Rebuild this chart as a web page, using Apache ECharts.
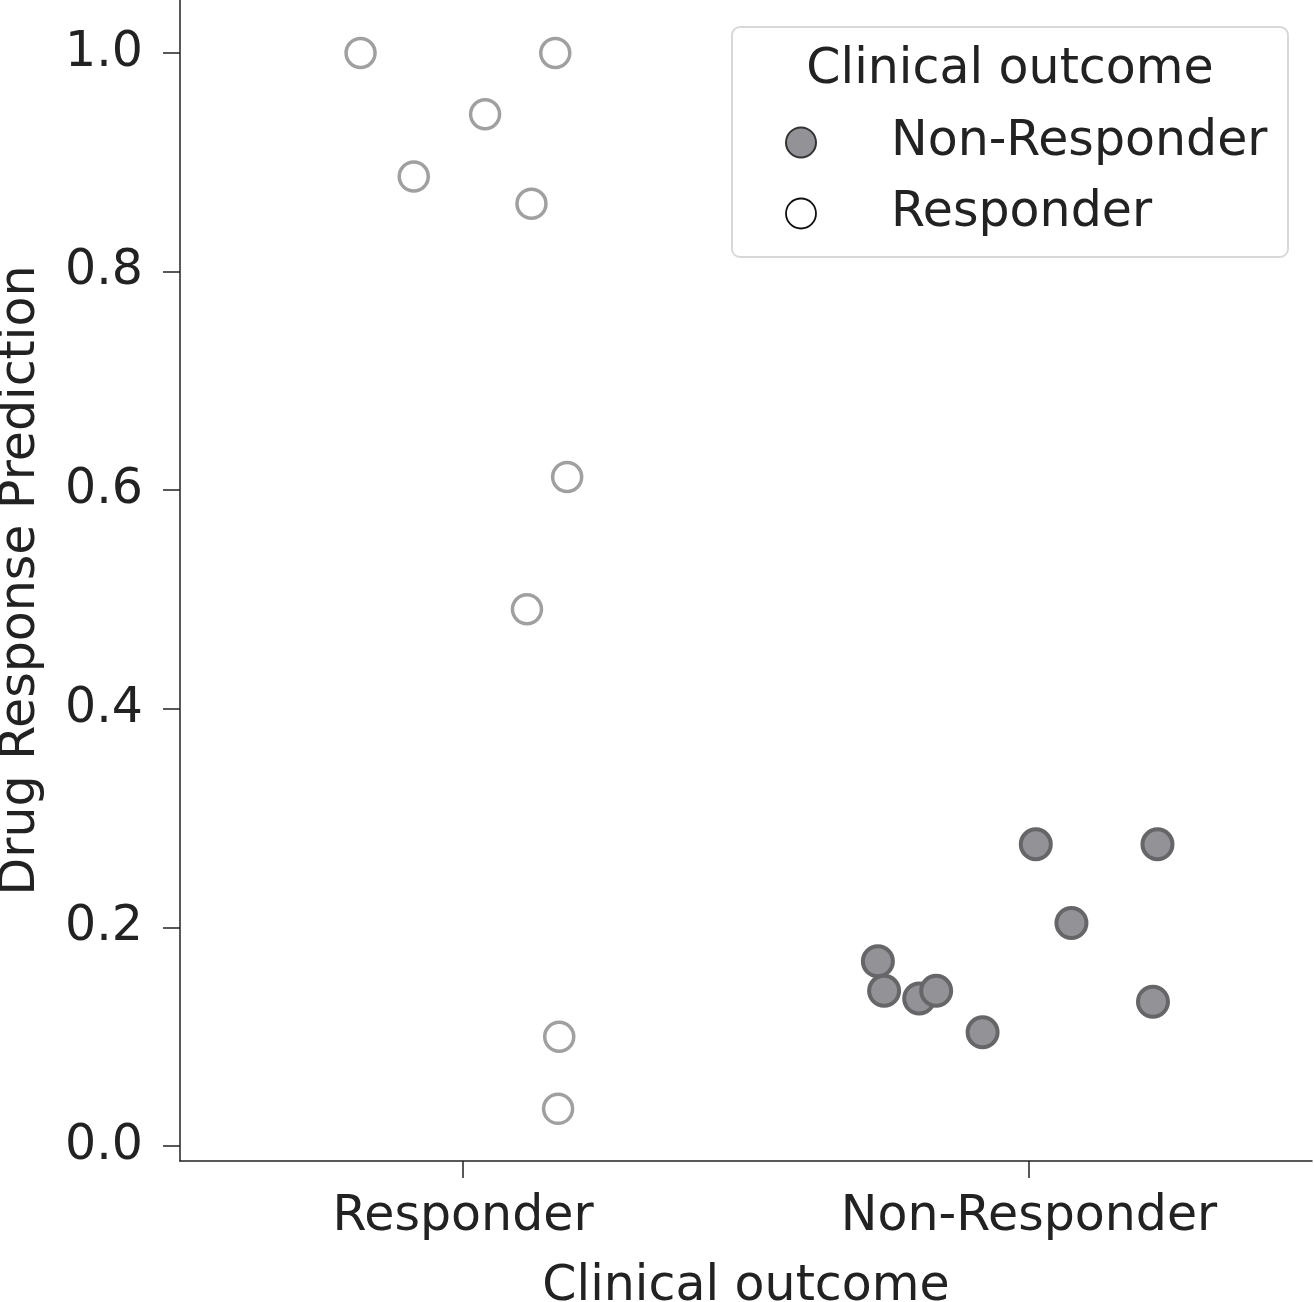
<!DOCTYPE html>
<html>
<head>
<meta charset="utf-8">
<script src="https://cdn.jsdelivr.net/npm/echarts@6/dist/echarts.min.js"></script>
<style>
html,body{margin:0;padding:0;background:#fff;}
#chart{width:1314px;height:1302px;}
</style>
</head>
<body>
<div id="chart"></div>
<script>
// Categories on the x axis (index 0, 1)
const categories = ['Responder', 'Non-Responder'];
// Responder group: horizontal jitter (category units) and predicted value
const responderJitter = [-0.181, 0.163, 0.039, -0.087, 0.121, 0.184, 0.113, 0.170, 0.168];
const responderValues = [1.000, 1.000, 0.944, 0.887, 0.862, 0.612, 0.491, 0.100, 0.034];
// Non-Responder group
const nonResponderJitter = [-0.267, -0.256, -0.194, -0.164, -0.082, 0.012, 0.075, 0.227, 0.219];
const nonResponderValues = [0.169, 0.142, 0.135, 0.142, 0.104, 0.276, 0.204, 0.276, 0.132];
// Y tick labels
const yTicks = [0.0, 0.2, 0.4, 0.6, 0.8, 1.0];
const legendTitle = 'Clinical outcome';
const xTitle = 'Clinical outcome';
const yTitle = 'Drug Response Prediction';

const FONT = 'DejaVu Sans';
const FS = 49;
const TXT = '#222222';

const respData = responderValues.map((v, i) => [0 + responderJitter[i], v]);
const nonRespData = nonResponderValues.map((v, i) => [1 + nonResponderJitter[i], v]);

const chart = echarts.init(document.getElementById('chart'), null, {renderer: 'canvas'});
chart.setOption({
  animation: false,
  backgroundColor: '#ffffff',
  grid: {left: 180, right: 2, top: 0, bottom: 141, containLabel: false, outerBoundsMode: 'none'},
  xAxis: {
    type: 'value',
    min: -0.5, max: 1.5,
    splitLine: {show: false},
    axisLine: {show: true, onZero: false, lineStyle: {color: TXT, width: 1.5}},
    axisTick: {show: true, length: 17, customValues: [0, 1], lineStyle: {color: TXT, width: 1.5}},
    axisLabel: {
      customValues: [0, 1],
      formatter: v => categories[Math.round(v)] || '',
      color: TXT, fontFamily: FONT, fontSize: FS, margin: 32
    },
    name: xTitle, nameLocation: 'middle', nameGap: 102,
    nameTextStyle: {color: TXT, fontFamily: FONT, fontSize: FS}
  },
  yAxis: {
    type: 'value',
    min: -0.0137, max: 1.0485,
    splitLine: {show: false},
    axisLine: {show: true, onZero: false, lineStyle: {color: TXT, width: 1.5}},
    axisTick: {show: true, length: 17, customValues: yTicks, lineStyle: {color: TXT, width: 1.5}},
    axisLabel: {
      customValues: yTicks,
      formatter: v => Number(v).toFixed(1),
      color: TXT, fontFamily: FONT, fontSize: FS, margin: 37
    },
    name: yTitle, nameLocation: 'middle', nameGap: 134,
    nameTextStyle: {color: TXT, fontFamily: FONT, fontSize: FS}
  },
  legend: {
    orient: 'vertical',
    left: 785, top: 118, padding: 0,
    itemWidth: 30, itemHeight: 30, itemGap: 22,
    icon: 'circle',
    textStyle: {color: TXT, fontFamily: FONT, fontSize: FS, lineHeight: 49, padding: [0, 0, 0, 70]},
    data: [
      {name: 'Non-Responder', itemStyle: {color: '#939397', borderColor: '#333333', borderWidth: 2}},
      {name: 'Responder', itemStyle: {color: '#ffffff', borderColor: '#111111', borderWidth: 1.8}}
    ],
    z: 10
  },
  graphic: [
    {type: 'rect', x: 732, y: 27, z: 5,
     shape: {width: 556, height: 230, r: 8},
     style: {fill: 'rgba(255,255,255,0.9)', stroke: '#d8d8d8', lineWidth: 2}},
    {type: 'text', x: 1010, y: 46, z: 11,
     style: {text: legendTitle, fill: TXT, font: FS + 'px "' + FONT + '"', textAlign: 'center', textVerticalAlign: 'top'}}
  ],
  series: [
    {
      name: 'Responder', type: 'scatter', data: respData,
      symbol: 'circle', symbolSize: 29,
      itemStyle: {color: '#ffffff', borderColor: '#a0a0a0', borderWidth: 3.5, opacity: 1},
      emphasis: {disabled: true}, z: 3
    },
    {
      name: 'Non-Responder', type: 'scatter', data: nonRespData,
      symbol: 'circle', symbolSize: 30,
      itemStyle: {color: '#939397', borderColor: '#666669', borderWidth: 4, opacity: 1},
      emphasis: {disabled: true}, z: 3
    }
  ]
});
</script>
</body>
</html>
